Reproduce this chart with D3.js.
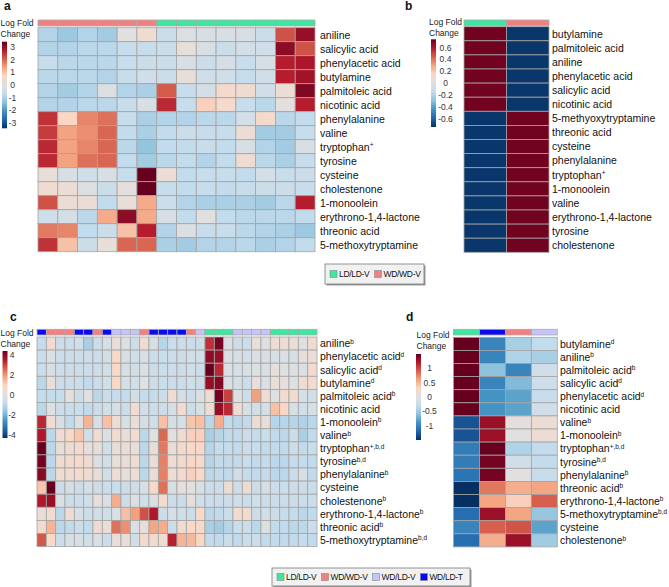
<!DOCTYPE html>
<html><head><meta charset="utf-8">
<script src="https://cdn.jsdelivr.net/npm/d3@7"></script>
<style>body{margin:0;background:#fff;} text{font-family:"Liberation Sans",Arial,sans-serif;}</style>
</head><body><svg id="chart" width="669" height="587"></svg>
<script>
// ---------- DATA ----------
const groupNames = ["LD/LD-V","WD/WD-V","WD/LD-V","WD/LD-T"];
const groupColors = ["#3fe6a0","#f38080","#c4c4f8","#0a0af2"];

const aRows = [{name:"aniline"},{name:"salicylic acid"},{name:"phenylacetic acid"},{name:"butylamine"},{name:"palmitoleic acid"},{name:"nicotinic acid"},{name:"phenylalanine"},{name:"valine"},{name:"tryptophan",sup:"+"},{name:"tyrosine"},{name:"cysteine"},{name:"cholestenone"},{name:"1-monoolein"},{name:"erythrono-1,4-lactone"},{name:"threonic acid"},{name:"5-methoxytryptamine"}];
const aGroups = ["WD/WD-V","WD/WD-V","WD/WD-V","WD/WD-V","WD/WD-V","WD/WD-V","LD/LD-V","LD/LD-V","LD/LD-V","LD/LD-V","LD/LD-V","LD/LD-V","LD/LD-V","LD/LD-V"];
const aValues = [
[-0.9,-1.2,-0.9,-1.1,0,0.4,-0.5,-0.1,-0.2,-0.2,-0.2,-0.5,2.2,3.0],
[-0.9,-0.9,-0.8,-0.8,-0.6,-0.6,-0.5,0.2,-0.2,-0.5,-0.3,-0.4,3.1,2.2],
[-0.6,-0.8,-0.8,-0.8,-0.6,-0.5,-0.5,-0.2,-0.5,-0.3,-0.6,-0.2,2.7,2.8],
[-0.8,-0.8,-0.8,-0.9,-0.6,-0.4,-0.5,0.2,-0.4,-0.4,-0.6,-0.4,2.7,2.9],
[-0.9,-1.1,-0.9,-0.1,-0.9,-1.0,2.1,-0.6,-0.3,0.5,0.4,-0.4,0.3,3.2],
[-0.9,-0.9,-0.8,-0.8,-0.6,-0.2,2.6,-0.6,0.8,0.5,-0.6,-0.8,0.1,2.7],
[2.5,0.7,1.7,1.9,-0.6,-1.0,-0.9,-0.9,-0.8,-0.8,-0.3,0.5,-0.8,-0.7],
[2.4,1.4,1.6,2.0,-0.7,-1.0,-0.7,-0.5,-0.6,-0.6,0.3,-1.1,-1.1,-0.6],
[2.6,1.4,1.7,2.0,-0.8,-1.3,-0.7,-0.7,-0.6,-0.7,-0.2,-0.9,-1.1,-0.2],
[2.6,1.4,1.9,2.0,-0.7,-1.1,-0.8,-0.7,-0.9,-0.7,0.4,-0.8,-1.0,-0.6],
[0.2,-0.2,-0.4,-0.2,-0.6,3.6,0.3,-0.7,-0.6,-0.6,-0.7,-0.3,-0.6,-0.5],
[0.4,0.3,-0.1,-0.5,0.1,3.6,-0.6,-0.7,-0.6,-0.7,-0.6,-0.5,-0.5,-0.6],
[2.2,0.3,0.3,-0.7,0.2,1.3,-0.5,-0.9,-1.0,-1.0,-1.0,-1.1,-0.8,2.7],
[-0.4,-0.3,-0.8,1.3,3.1,1.3,-0.2,-0.7,0,-0.7,-0.8,-0.8,-0.8,-0.7],
[1.8,1.7,-0.7,-0.5,1.0,2.7,-0.9,-0.1,-0.6,-0.6,-0.8,-0.9,-1.0,-1.2],
[2.5,1.0,-0.5,0.2,2.0,2.0,-1.0,-1.1,-0.9,-0.9,-0.8,-1.0,-0.9,-0.7]];
const aTicks = [3,2,1,0,-1,-2,-3];
const aMax = 3.44;

const bRows = [{name:"butylamine"},{name:"palmitoleic acid"},{name:"aniline"},{name:"phenylacetic acid"},{name:"salicylic acid"},{name:"nicotinic acid"},{name:"5-methyoxytryptamine"},{name:"threonic acid"},{name:"cysteine"},{name:"phenylalanine"},{name:"tryptophan",sup:"+"},{name:"1-monoolein"},{name:"valine"},{name:"erythrono-1,4-lactone"},{name:"tyrosine"},{name:"cholestenone"}];
const bGroups = ["LD/LD-V","WD/WD-V"];
const bValues = [[0.72,-0.72],[0.72,-0.72],[0.72,-0.72],[0.72,-0.72],[0.72,-0.72],[0.72,-0.72],
[-0.72,0.72],[-0.72,0.72],[-0.72,0.72],[-0.72,0.72],[-0.72,0.72],[-0.72,0.72],[-0.72,0.72],[-0.72,0.72],[-0.72,0.72],[-0.72,0.72]];
const bTicks = [0.6,0.4,0.2,0,-0.2,-0.4,-0.6];
const bMax = 0.74;

const cRows = [{name:"aniline",sup:"b"},{name:"phenylacetic acid",sup:"d"},{name:"salicylic acid",sup:"d"},{name:"butylamine",sup:"d"},{name:"palmitoleic acid",sup:"b"},{name:"nicotinic acid"},{name:"1-monoolein",sup:"b"},{name:"valine",sup:"b"},{name:"tryptophan",sup:"+,b,d"},{name:"tyrosine",sup:"b,d"},{name:"phenylalanine",sup:"b"},{name:"cysteine"},{name:"cholestenone",sup:"b"},{name:"erythrono-1,4-lactone",sup:"b"},{name:"threonic acid",sup:"b"},{name:"5-methoxytryptamine",sup:"b,d"}];
const cGroups = ["WD/LD-T","WD/WD-V","WD/WD-V","WD/WD-V","WD/LD-T","WD/LD-T","WD/WD-V","WD/LD-T","WD/LD-V","WD/LD-V","WD/LD-V","WD/WD-V","WD/LD-T","WD/LD-T","WD/LD-T","WD/LD-T","WD/WD-V","WD/LD-V","LD/LD-V","LD/LD-V","LD/LD-V","WD/LD-V","WD/LD-V","WD/LD-V","WD/LD-V","LD/LD-V","LD/LD-V","LD/LD-V","LD/LD-V","LD/LD-V"];
const cValues = [
[-0.8,0.6,-0.6,-0.7,-0.5,-1.3,-0.7,-0.3,0.3,-0.2,-0.6,0.5,-0.3,-1.1,-0.7,-0.7,-0.6,-0.6,3.2,4.2,-0.2,-0.6,-0.6,0.3,-0.1,0.4,0.4,0.3,-0.1,0.5],
[-0.7,-0.2,-0.6,-0.6,-0.6,-0.6,-0.6,-0.5,0.8,-0.3,-0.5,-0.3,-0.6,-0.7,-0.6,-0.6,-0.5,-0.5,3.9,3.8,-0.2,-0.3,-0.4,-0.2,-0.2,-0.3,-0.2,-0.3,0.2,0.3],
[-0.7,-0.3,-0.6,-0.6,-0.6,-0.6,-0.6,-0.5,0.8,-0.3,-0.5,-0.2,-0.6,-0.7,-0.6,-0.6,-0.5,-0.6,4.5,3.3,-0.2,-0.3,-0.3,-0.1,-0.2,0.2,-0.1,-0.1,-0.2,0.6],
[-1.0,0.3,-0.6,-0.6,-0.6,-0.9,-0.6,-0.5,0.8,-0.3,-0.5,0,-0.6,-0.7,-0.6,-0.6,-0.5,-0.6,3.8,4.0,-0.2,-0.4,-0.6,0.2,-0.2,0.3,0.2,-0.1,0.4,0.6],
[-0.8,-0.8,-0.8,0.1,-0.6,0.0,-1.0,-0.6,-0.8,-0.8,-0.5,-0.8,-0.8,-0.6,0.5,-0.4,-0.6,-0.2,0.4,4.2,3.0,-0.2,-0.6,1.8,0.5,-0.1,0.6,0.6,-0.3,-0.5],
[-1.0,-0.1,-0.6,-0.7,-0.7,-0.9,-0.6,-0.5,-0.3,-0.6,0.5,-0.5,-0.6,-0.6,-0.3,0.6,-0.6,-0.3,0.4,3.8,3.3,0.5,-0.3,-0.5,-0.4,1.3,0.9,-0.3,-0.5,-0.3],
[3.3,0.5,-0.3,-0.9,-0.1,1.5,-0.3,1.3,0.4,-0.3,0.3,-0.4,-0.5,1.3,-0.4,-0.3,1.2,1.3,-1.0,1.6,-0.9,-1.0,-0.9,0.4,0.3,-1.1,-1.1,-1.1,-1.2,-1.0],
[3.5,-1.0,0.5,0.8,1.2,-0.5,0.5,-0.2,0.6,0.3,0.6,-1.0,0.0,2.5,0.1,0.5,1.0,1.0,-1.3,-1.1,-0.9,-0.9,-0.6,-0.8,-0.7,-0.9,-1.0,-0.6,-1.3,-0.9],
[4.5,-1.0,0.3,0.5,0.6,0.2,0.2,-0.5,0.3,0.4,0.3,-1.0,0.3,2.3,0.3,0.6,0.8,0.8,-1.1,-0.8,-0.8,-0.9,-0.6,-0.7,-0.9,-0.9,-0.9,-0.6,-0.9,-0.7],
[4.2,-1.0,0.5,0.6,0.7,0.5,-0.2,-0.5,0.3,0.3,0.5,-1.0,0.3,2.2,0.4,0.6,0.9,0.7,-1.1,-0.9,-0.9,-0.9,-0.7,-0.9,-0.8,-1.0,-1.0,-0.8,-0.8,-0.9],
[4.0,-1.0,0.5,0.6,0.6,0.5,0.3,-0.5,0.4,0.2,0.4,-1.0,0.3,2.2,0.4,0.6,1.0,0.8,-1.0,-0.9,-0.9,-0.5,-0.8,-0.9,-0.8,-1.0,-1.0,-0.7,-0.3,-0.9],
[1.2,4.6,-0.6,-0.4,-0.6,-0.4,-0.6,-0.6,-0.7,-0.6,-0.6,-0.3,0.8,2.4,-0.3,0.2,0.1,-0.3,-0.6,-0.6,0.4,-0.6,0.4,-0.6,-0.4,-0.6,-0.7,-0.6,-0.6,-0.7],
[3.5,3.8,-0.2,-0.6,-0.6,-0.5,0.2,-0.2,1.6,-0.6,-0.2,-0.5,-0.2,0.6,-0.6,-0.6,0.2,-0.5,-0.7,-0.7,-0.6,-0.5,-0.7,-0.5,-0.6,-0.6,-0.6,-0.6,-0.7,-0.6],
[0.3,0.5,-1.0,0.5,-0.3,-0.7,-0.5,-0.5,-0.2,1.3,1.8,2.8,3.5,-0.6,-0.3,-0.5,-0.7,0.8,-1.0,-0.9,-0.7,0.6,0.6,-0.6,-0.5,-0.6,-0.8,-0.8,-1.0,-0.9],
[0.6,1.5,-1.0,-0.9,-0.6,-0.9,0.5,0.3,2.4,2.0,-0.2,0.3,1.7,1.6,-0.6,0.5,0.8,0.7,-1.3,-1.4,-1.1,-0.7,-0.6,-1.0,-0.1,-0.9,-0.9,-1.0,-1.0,-0.6],
[2.7,0.8,-0.7,-0.3,-0.3,-0.5,-0.2,-0.7,0.3,0.3,-0.5,0.6,0.6,0.5,3.4,1.5,1.4,0.9,-0.9,-0.9,-0.7,-0.9,-0.7,-0.6,-0.9,-0.9,-0.9,-0.9,-0.8,-0.9]];
const cTicks = [4,2,0,-2,-4];
const cMax = 4.35;

const dRows = [{name:"butylamine",sup:"d"},{name:"aniline",sup:"b"},{name:"palmitoleic acid",sup:"b"},{name:"salicylic acid",sup:"d"},{name:"phenylacetic acid",sup:"d"},{name:"nicotinic acid"},{name:"valine",sup:"b"},{name:"1-monoolein",sup:"b"},{name:"tryptophan",sup:"+,b,d"},{name:"tyrosine",sup:"b,d"},{name:"phenylalanine",sup:"b"},{name:"threonic acid",sup:"b"},{name:"erythrono-1,4-lactone",sup:"b"},{name:"5-methoxytryptamine",sup:"b,d"},{name:"cysteine"},{name:"cholestenone",sup:"b"}];
const dGroups = ["LD/LD-V","WD/LD-T","WD/WD-V","WD/LD-V"];
const dValues = [
[1.5,-1.0,-0.45,-0.3],
[1.5,-1.0,-0.4,-0.45],
[1.5,-0.6,-1.0,-0.15],
[1.5,-1.0,-0.65,-0.2],
[1.5,-0.9,-0.8,-0.25],
[1.5,-0.9,-0.8,-0.15],
[-1.3,1.3,0.05,0.15],
[-1.3,1.3,0.0,0.15],
[-1.05,1.5,-0.4,-0.3],
[-1.05,1.45,-0.15,-0.3],
[-1.1,1.45,0.0,-0.25],
[-1.5,0.8,0.55,0.6],
[-1.5,0.6,0.35,0.9],
[-1.15,1.3,0.6,-0.55],
[-1.0,0.9,0.95,-0.8],
[-1.15,0.55,1.3,-0.5]];
const dTicks = [1,0.5,0,-0.5,-1];
const dMax = 1.5;

const legendAB = ["LD/LD-V","WD/WD-V"];
const legendCD = ["LD/LD-V","WD/WD-V","WD/LD-V","WD/LD-T"];

// ---------- DRAWING ----------
const svg = d3.select("#chart");
const defs = svg.append("defs");
const gColor = d3.scaleOrdinal().domain(groupNames).range(groupColors);
const stops = ["#053061","#2166ac","#4393c3","#8ec2dd","#c3dced","#e0e0e0","#fad8c6","#f4a582","#d6604d","#b2182b","#67001f"];
function colorScale(M){
  return d3.scaleLinear().domain(d3.range(11).map(i=>-M+i*M/5)).range(stops).clamp(true);
}

function heatmap(o){
  const g = svg.append("g");
  const nc = o.values[0].length, nr = o.values.length;
  const x = d3.scaleBand().domain(d3.range(nc)).range([o.x0,o.x1]);
  const y = d3.scaleBand().domain(d3.range(nr)).range([o.y0,o.y0+o.rh*nr]);
  const col = colorScale(o.M);
  g.selectAll("rect.hd").data(o.groups).join("rect").attr("class","hd")
    .attr("x",(d,i)=>x(i)).attr("y",o.hy).attr("width",x.bandwidth()).attr("height",o.hh)
    .attr("fill",d=>gColor(d)).attr("stroke","#aaaaaa").attr("stroke-width",0.8);
  const cells = o.values.flatMap((row,r)=>row.map((v,c)=>({r,c,v})));
  g.selectAll("rect.cell").data(cells).join("rect").attr("class","cell")
    .attr("x",d=>x(d.c)).attr("y",d=>y(d.r)).attr("width",x.bandwidth()).attr("height",y.bandwidth())
    .attr("fill",d=>col(d.v)).attr("stroke","#a4a4a4").attr("stroke-width",0.8);
  const lab = g.selectAll("text.lab").data(o.rows).join("text").attr("class","lab")
    .attr("x",o.lx).attr("y",(d,i)=>y(i)+y.bandwidth()/2+3.8)
    .attr("font-size",10.5).attr("fill","#111");
  lab.append("tspan").text(d=>d.name);
  lab.filter(d=>d.sup).append("tspan").attr("font-size",6.5).attr("dy",-3.5).text(d=>d.sup);
}

function colorbar(o){
  const col = colorScale(o.M);
  const id = "grad"+o.id;
  const grad = defs.append("linearGradient").attr("id",id).attr("x1",0).attr("y1",0).attr("x2",0).attr("y2",1);
  d3.range(0,21).forEach(i=>{const t=i/20; grad.append("stop").attr("offset",t).attr("stop-color",col(o.M-2*o.M*t));});
  const s = d3.scaleLinear().domain([o.M,-o.M]).range([o.y0,o.y1]);
  const g = svg.append("g");
  g.append("rect").attr("x",o.x).attr("y",o.y0).attr("width",o.w).attr("height",o.y1-o.y0).attr("fill",`url(#${id})`);
  g.selectAll("text.tk").data(o.ticks).join("text").attr("class","tk")
    .attr("x",o.tx).attr("y",d=>s(d)+3).attr("text-anchor","middle").attr("font-size",8.5).attr("fill","#333")
    .text(d=>d);
  g.append("text").attr("x",o.lx).attr("y",o.ly).attr("font-size",8.5).attr("fill","#222").text("Log Fold");
  g.append("text").attr("x",o.lx).attr("y",o.ly+11).attr("font-size",8.5).attr("fill","#222").text("Change");
}

function legend(o){
  const g = svg.append("g");
  g.append("rect").attr("x",o.x+1.5).attr("y",o.y+1.5).attr("width",o.w).attr("height",o.h).attr("fill","#9a9a9a");
  g.append("rect").attr("x",o.x).attr("y",o.y).attr("width",o.w).attr("height",o.h).attr("fill","#f1f1f1").attr("stroke","#7a7a7a").attr("stroke-width",0.8);
  let cx = o.x+5;
  const cy = o.y+o.h/2;
  o.items.forEach(name=>{
    g.append("rect").attr("x",cx).attr("y",cy-3.5).attr("width",7).attr("height",7).attr("fill",gColor(name)).attr("stroke","#888").attr("stroke-width",0.6);
    const t = g.append("text").attr("x",cx+9).attr("y",cy+3).attr("font-size",8.5).attr("fill","#111").attr("letter-spacing",-0.3).text(name);
    cx += 9 + t.node().getComputedTextLength() + 5;
  });
}

function letter(t,x,y){ svg.append("text").attr("x",x).attr("y",y).attr("font-size",12).attr("font-weight","bold").attr("fill","#111").text(t); }

// Panel a
letter("a",4,10);
heatmap({values:aValues,rows:aRows,groups:aGroups,M:aMax,x0:38,x1:315,y0:27.7,rh:14,hy:20,hh:6,lx:320});
colorbar({id:"a",M:aMax,x:2,w:5,y0:41.7,y1:128.3,ticks:aTicks,tx:12.5,lx:0.5,ly:26});
legend({x:325,y:264,w:99,h:20,items:legendAB});

// Panel b
letter("b",405,10);
heatmap({values:bValues,rows:bRows,groups:bGroups,M:bMax,x0:464,x1:549,y0:26.7,rh:14.1,hy:20,hh:5.5,lx:552});
colorbar({id:"b",M:bMax,x:431,w:5,y0:39.3,y1:127,ticks:bTicks,tx:445.5,lx:429,ly:25});

// Panel c
letter("c",10,321);
heatmap({values:cValues,rows:cRows,groups:cGroups,M:cMax,x0:37,x1:317,y0:337,rh:13.1,hy:329.3,hh:5.7,lx:320});
colorbar({id:"c",M:cMax,x:2.5,w:5,y0:351,y1:438,ticks:cTicks,tx:12,lx:0.5,ly:336});

// Panel d
letter("d",406,321);
heatmap({values:dValues,rows:dRows,groups:dGroups,M:dMax,x0:453.5,x1:557.3,y0:337.3,rh:13.1,hy:329.3,hh:5.7,lx:560});
colorbar({id:"d",M:dMax,x:416,w:5,y0:354,y1:440,ticks:dTicks,tx:429.5,lx:416.5,ly:338});
legend({x:272,y:568,w:198,h:18,items:legendCD});
</script></body></html>
